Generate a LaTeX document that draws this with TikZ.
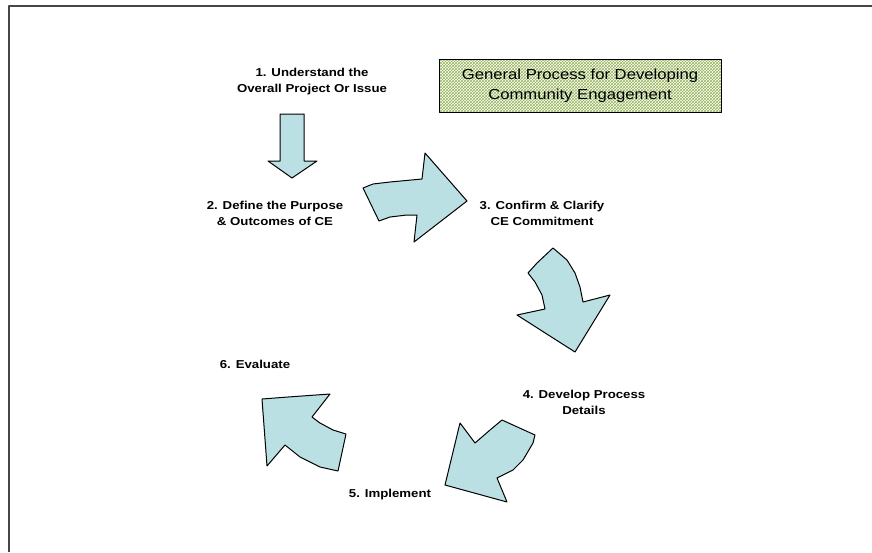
\documentclass[tikz,border=0pt]{standalone}
\usepackage{fontspec}
\setmainfont{Liberation Sans}[FakeStretch=1.15]
\usetikzlibrary{patterns}
\definecolor{arrowfill}{RGB}{187,224,227}
\definecolor{boxgreen}{RGB}{150,180,90}
\definecolor{framegray}{RGB}{70,70,70}
\begin{document}
\begin{tikzpicture}[x=1pt,y=-1pt,line join=round,
	stagelabel/.style={font=\fontsize{11.5}{16}\selectfont\bfseries,align=center,inner sep=0pt},
	blockarrow/.style={draw=black,line width=1pt,fill=arrowfill}]
		\useasboundingbox (0,0) rectangle (872,552);
		%==frame
		\draw[framegray,line width=1.6pt] (9,552)--(9,6)--(872,6);
		%==title
		\node[draw,line width=0.9pt,preaction={fill=white},pattern=crosshatch,pattern color=boxgreen,
			minimum width=282pt,minimum height=53pt,align=center,
			font=\fontsize{14.5}{20}\selectfont] (title) at (580,86) {General Process for Developing\\Community Engagement};
		%==stages
		\node[stagelabel] (s1) at (312,82) {1. Understand the\\Overall Project Or Issue};
		\node[stagelabel] (s2) at (275,213) {2. Define the Purpose\\\& Outcomes of CE};
		\node[stagelabel] (s3) at (542,213) {3. Confirm \& Clarify\\CE Commitment};
		\node[stagelabel] (s4) at (584,402) {4. Develop Process\\Details};
		\node[stagelabel] (s5) at (390,495) {5. Implement};
		\node[stagelabel] (s6) at (255,364) {6. Evaluate};
		%==arrows
		\draw[blockarrow] (280,114)--(304,114)--(304,161)--(317,161)--(292,178)--(268,161)--(280,161)--cycle;
		\draw[blockarrow] (363,188)--(373,184)--(390,182)--(422,179)--(425,153)--(467,201)--(414,242)--(417,215)
			--(407,215)--(390,217)--(379,221)--cycle;
		\draw[blockarrow] (528,273)--(537,263)--(553,248)--(567,260)--(575,273)--(580,287)--(583,302)--(610,295)
			--(575,352)--(517,315)--(545,309)--(542,295)--(535,282)--cycle;
		\draw[blockarrow] (460,423)--(475,443)--(490,430)--(502,420)--(535,435)--(533,443)--(523,460)--(513,470)
			--(497,478)--(507,502)--(445,485)--cycle;
		\draw[blockarrow] (262,399)--(288,397)--(330,394)--(312,417)--(320,423)--(333,430)--(346,434)--(338,471)
			--(320,467)--(300,457)--(285,445)--(267,466)--cycle;
\end{tikzpicture}
\end{document}
